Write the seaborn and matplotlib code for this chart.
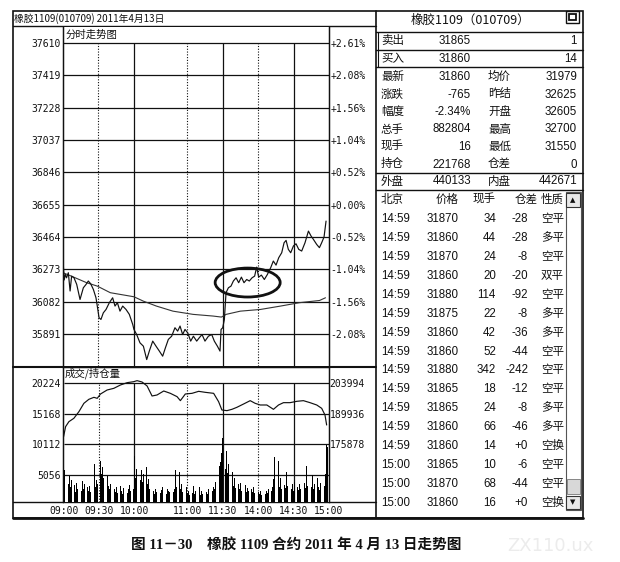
import numpy as np
import pandas as pd
import matplotlib
matplotlib.use("Agg")
import matplotlib.pyplot as plt
import seaborn as sns
from matplotlib.patches import Ellipse, Rectangle

sns.set_style("white")
plt.rcParams['font.family'] = ['DejaVu Sans', 'Noto Sans CJK SC']

# ---------------- data ----------------
price_levels = [37610, 37419, 37228, 37037, 36846, 36655, 36464, 36273, 36082, 35891]
pct_labels = ["+2.61%", "+2.08%", "+1.56%", "+1.04%", "+0.52%", "+0.00%",
              "-0.52%", "-1.04%", "-1.56%", "-2.08%"]
vol_levels = [20224, 15168, 10112, 5056]
oi_levels = [203994, 189936, 175878]
time_ticks = [0, 30, 60, 105, 135, 165, 195, 225]
time_labels = ["09:00", "09:30", "10:00", "11:00", "11:30", "14:00", "14:30", "15:00"]
dotted_times = [30, 105, 165]
solid_times = [60, 135, 195]

price_min = [0, 1, 2, 3, 4.5, 6, 7.3, 9.3, 11.6, 14.4, 17.2, 19.5, 21.4, 23.4, 25.7, 27.9, 29,
             30.5, 32.1, 34.1, 36.4, 39.2, 42, 44, 46, 48.2, 50.5, 53.3, 56.1, 59, 60, 62.3,
             65.1, 68, 70.8, 73, 75.9, 78.7, 81.5, 84.3, 86.6, 89.1, 91.9, 94.7, 97, 99,
             101.2, 103.2, 105.5, 108, 110.3, 113.1, 115.3, 117.6, 120.1, 123, 125.8, 128,
             130.6, 132.8, 133.7, 135.1, 136.5, 137.9, 139.9, 142.1, 144.1, 146.4, 148.6,
             150.9, 153.1, 155.4, 157.6, 159.9, 162.1, 163.8, 165.5, 167.8, 170.3, 172.9,
             175.7, 177.9, 180.2, 182.5, 185, 187, 188.7, 190.6, 192.6, 194.9, 197.1, 199.4,
             201.9, 204.7, 207.6, 209.8, 211.8, 214.6, 216.9, 218.8, 220.8, 222.5]
price_val = [36330, 36210, 36243, 36223, 36253, 36145, 36233, 36223, 36184, 36095, 36164, 36184,
             36204, 36188, 36154, 36105, 36056, 35987, 35977, 36016, 36036, 36076, 36105, 36056,
             36076, 36026, 36056, 36036, 36007, 35947, 35918, 35888, 35839, 35819, 35740, 35790,
             35849, 35819, 35790, 35760, 35809, 35859, 35878, 35928, 35908, 35938, 35888, 35918,
             35898, 35849, 35878, 35849, 35869, 35888, 35849, 35878, 35888, 35849, 35819, 35790,
             35918, 35928, 35977, 36135, 36164, 36174, 36204, 36223, 36194, 36227, 36194, 36213,
             36204, 36223, 36233, 36286, 36227, 36239, 36213, 36243, 36283, 36322, 36298, 36342,
             36371, 36430, 36444, 36391, 36371, 36411, 36424, 36391, 36381, 36430, 36499, 36470,
             36450, 36420, 36401, 36430, 36464, 36558]

avg_min = [0, 7, 20, 29, 40, 60, 68, 79, 93, 110, 127, 134, 138, 150, 167, 184, 200, 217, 222]
avg_val = [36253, 36233, 36194, 36174, 36135, 36111, 36085, 36056, 36026, 36007, 35997, 35991,
           36007, 36026, 36036, 36056, 36076, 36089, 36105]

oi_min = [0, 1.7, 4.5, 8.7, 13, 17.2, 21.4, 25.7, 28.5, 31.3, 36.9, 42.6, 48.2, 53.9, 59.5, 62.3,
          66.5, 70.8, 75, 79.2, 84.9, 90.5, 96.2, 99, 103.2, 108.9, 114.5, 120.1, 127.2, 131.4,
          134.2, 138.5, 142.7, 146.9, 152.6, 158.2, 162.4, 166.7, 172.3, 177.9, 182.2, 186.4,
          192, 197.7, 203.3, 208.9, 214.6, 218.8, 221.6, 223]
oi_val = [179267, 183875, 186179, 187715, 190787, 194627, 196470, 197392, 196931, 198928, 200771,
          201539, 203075, 204150, 204611, 205072, 204458, 202615, 198007, 198467, 200310, 199235,
          197699, 195856, 198928, 199235, 200157, 199696, 199235, 195395, 191555, 191248, 191862,
          192784, 194320, 195856, 194627, 193859, 193859, 191862, 193859, 194934, 194934, 195549,
          195856, 194934, 193859, 192323, 189251, 184643]

volume = [10300, 5800, 4500, 5200, 3600, 4900, 3000, 4200, 2500, 3400, 2200, 3800, 2700,
          7500, 3300, 2500, 4000, 2800, 3500, 2600, 3100, 2400, 3300, 2200, 2900, 3600,
          6800, 3000, 4200, 3500,
          10500, 7400, 5200, 6300, 4600, 5500, 3800, 4900, 3200, 2700, 3600,
          2300, 6700, 2800, 2300, 3000, 2100, 2600, 3300, 2400, 2000, 2900, 2300, 2600, 2100,
          2800, 3400, 2500, 3100, 2700,
          8200, 4500, 6000, 5200, 6600, 4200, 5800, 3900, 5300, 4800, 6400, 3600, 4400,
          2800, 2300, 3100, 2500, 2000, 2700, 2200, 2900, 3400, 2100, 2600, 3000, 2400, 2200,
          1900, 2800, 2500, 2300, 2600, 3000, 2200, 2700,
          5900, 3100, 2400, 5500, 2800, 3500, 2300, 4200, 2600, 3000, 2100,
          2400, 1800, 2700, 2100, 3200, 1900, 2500, 1600, 2200, 3000, 1800, 2400, 2000, 1700,
          2600, 2300, 1900, 2800, 2100, 3400, 2500, 3100, 2700, 3900, 3300,
          5200, 6500, 7200, 8700, 11200, 7800, 6100, 9000, 5400, 6800,
          4800, 3900, 5600, 3300, 4500, 2900, 4100, 3500, 2700, 3800, 2400, 3100, 2600, 3400,
          2200, 2900, 2500, 2000, 2700, 2300, 3000, 2100,
          8200, 2700, 2300, 2000, 2500, 1800, 2200, 2600, 1900, 2400, 2100,
          2800, 3600, 2500, 3100, 4400, 8000, 2600, 3300, 7300, 3000, 4600, 2700, 7500, 3400,
          2900, 5600, 3200, 2500, 4300, 2800, 3500, 2400, 3900, 2200, 3000, 2600,
          3500, 2800, 4100, 2600, 3700, 2900, 6600, 3300, 2500, 4200, 3000, 5100, 2700, 3600,
          2400, 4500, 3100, 2600, 3800, 2900, 4400, 3300, 5200,
          10000, 9600, 6000]
vol_min = list(range(len(volume)))

quote_left_labels = ["卖出", "买入", "最新", "涨跌", "幅度", "总手", "现手", "持仓", "外盘"]
quote_left_values = ["31865", "31860", "31860", "-765", "-2.34%", "882804", "16", "221768", "440133"]
quote_right_labels = ["", "", "均价", "昨结", "开盘", "最高", "最低", "仓差", "内盘"]
quote_right_values = ["1", "14", "31979", "32625", "32605", "32700", "31550", "0", "442671"]

tick_header = ["北京", "价格", "现手", "仓差", "性质"]
tick_time = ["14:59"] * 13 + ["15:00"] * 3
tick_price = [31870, 31860, 31870, 31860, 31880, 31875, 31860, 31860, 31880, 31865, 31865,
              31860, 31860, 31865, 31870, 31860]
tick_vol = [34, 44, 24, 20, 114, 22, 42, 52, 342, 18, 24, 66, 14, 10, 68, 16]
tick_oi = ["-28", "-28", "-8", "-20", "-92", "-8", "-36", "-44", "-242", "-12", "-8", "-46",
           "+0", "-6", "-44", "+0"]
tick_type = ["空平", "多平", "空平", "双平", "空平", "多平", "多平", "空平", "空平", "空平", "多平",
             "多平", "空换", "空平", "空平", "空换"]

left_title = "橡胶1109(010709) 2011年4月13日"
right_title = "橡胶1109（010709）"
caption = "图 11－30　橡胶 1109 合约 2011 年 4 月 13 日走势图"

# ---------------- figure ----------------
W, H = 620, 562
fig = plt.figure(figsize=(W / 100, H / 100), dpi=100)
fig.patch.set_facecolor("white")

def rect(l, t, r, b):
    return [l / W, 1 - b / H, (r - l) / W, (b - t) / H]

bg = fig.add_axes([0, 0, 1, 1], zorder=0)
bg.set_xlim(0, W)
bg.set_ylim(H, 0)
bg.axis("off")

K = "#111111"
SANS = ["Liberation Sans", "Noto Sans CJK SC"]
CJK = ["Noto Sans CJK SC", "DejaVu Sans"]

# frames
bg.add_patch(Rectangle((13, 11), 570, 507, fill=False, lw=1.2, ec=K))
bg.plot([13, 583], [518, 518], color=K, lw=2)
bg.plot([13, 376], [26, 26], color=K, lw=1)
bg.plot([376, 376], [11, 518], color=K, lw=1.2)
bg.plot([13, 376], [366.5, 366.5], color=K, lw=1.5)
bg.plot([13, 376], [502, 502], color=K, lw=1)
bg.text(14, 18.5, left_title, fontsize=7, family=CJK, va="center", ha="left", color=K)

# right panel lines
for yy in [32, 50, 67, 173, 190]:
    bg.plot([376, 583], [yy, yy], color=K, lw=1)
bg.plot([378, 378], [32, 67], color=K, lw=0.8)
bg.text(470, 20, right_title, fontsize=9, family=CJK, ha="center", va="center", color=K)
bg.add_patch(Rectangle((566, 11), 13, 12, fill=False, lw=1, ec=K))
bg.add_patch(Rectangle((569, 14), 7, 6, fill=False, lw=1.3, ec=K))

quote_y = [41, 59, 77, 94.5, 112, 129.5, 147, 164.5, 181.5]
for i, y in enumerate(quote_y):
    bg.text(381, y, quote_left_labels[i], fontsize=8.3, family=SANS, ha="left", va="center", color=K)
    bg.text(471, y, quote_left_values[i], fontsize=8.3, family=SANS, ha="right", va="center", color=K)
    if quote_right_labels[i]:
        bg.text(488, y, quote_right_labels[i], fontsize=8.3, family=SANS, ha="left", va="center", color=K)
    bg.text(577, y, quote_right_values[i], fontsize=8.3, family=SANS, ha="right", va="center", color=K)

hy = 200
bg.text(381, hy, tick_header[0], fontsize=8.3, family=SANS, ha="left", va="center", color=K)
bg.text(459, hy, tick_header[1], fontsize=8.3, family=SANS, ha="right", va="center", color=K)
bg.text(496, hy, tick_header[2], fontsize=8.3, family=SANS, ha="right", va="center", color=K)
bg.text(538, hy, tick_header[3], fontsize=8.3, family=SANS, ha="right", va="center", color=K)
bg.text(541, hy, tick_header[4], fontsize=8.3, family=SANS, ha="left", va="center", color=K)
for i in range(len(tick_time)):
    y = 219 + i * 18.93
    bg.text(381, y, tick_time[i], fontsize=8.3, family=SANS, ha="left", va="center", color=K)
    bg.text(459, y, str(tick_price[i]), fontsize=8.3, family=SANS, ha="right", va="center", color=K)
    bg.text(496, y, str(tick_vol[i]), fontsize=8.3, family=SANS, ha="right", va="center", color=K)
    bg.text(528, y, tick_oi[i], fontsize=8.3, family=SANS, ha="right", va="center", color=K)
    bg.text(541, y, tick_type[i], fontsize=8.3, family=SANS, ha="left", va="center", color=K)

# scrollbar
bg.add_patch(Rectangle((566, 192), 15, 318, fill=False, lw=0.8, ec="#555555"))
bg.add_patch(Rectangle((566, 193), 14, 14, fc="#e8e8e8", lw=0.8, ec="#333333"))
bg.add_patch(Rectangle((566, 496), 14, 13, fc="#e8e8e8", lw=0.8, ec="#333333"))
bg.add_patch(Rectangle((567, 479), 13, 15, fc="#d8d8d8", lw=0.6, ec="#777777"))
bg.text(573, 200, "▲", fontsize=5, ha="center", va="center", color=K)
bg.text(573, 502.5, "▼", fontsize=5, ha="center", va="center", color=K)

# caption and watermark
bg.text(296, 546, caption, fontsize=10.5, fontweight="bold",
        family=["Liberation Serif", "Noto Sans CJK SC"], ha="center", va="center", color=K)
bg.text(550, 546, "ZX110.ux", fontsize=13, ha="center", va="center", color="#ececec")

# ---------------- price panel ----------------
axp = fig.add_axes(rect(63, 27, 329, 366), zorder=2)
p_lo, p_hi = 35702, 37704.5
sns.lineplot(x=avg_min, y=avg_val, ax=axp, color="#333333", lw=0.8, sort=False,
             estimator=None, legend=False)
sns.lineplot(x=price_min, y=price_val, ax=axp, color=K, lw=0.85, sort=False,
             estimator=None, legend=False)
axp.hlines(price_levels, 0, 225, color=K, lw=0.9, zorder=0)
axp.vlines(solid_times, p_lo, price_levels[0], color=K, lw=0.9, zorder=0)
axp.vlines(dotted_times, p_lo, price_levels[0], color=K, lw=0.8, linestyles=(0, (1, 1.5)), zorder=0)
axp.add_patch(Ellipse((156.2, 36195), width=55, height=171, fill=False, lw=2.0, ec=K, zorder=3))
axp.set_xlim(0, 225)
axp.set_ylim(p_lo, p_hi)
axp.set_xticks([])
axp.set_yticks(price_levels)
axp.set_yticklabels([str(v) for v in price_levels])
axp.tick_params(axis="y", length=0, pad=1.5, labelsize=7, labelfontfamily="DejaVu Sans Mono",
                labelcolor=K)
axp.set_xlabel("")
axp.set_ylabel("")
for s in ["top", "bottom"]:
    axp.spines[s].set_visible(False)
for s in ["left", "right"]:
    axp.spines[s].set_color(K)
    axp.spines[s].set_linewidth(1)
axp.text(2, 37660, "分时走势图", fontsize=7.5, family=CJK, ha="left", va="center", color=K)

axpr = axp.twinx()
axpr.set_ylim(p_lo, p_hi)
axpr.set_yticks(price_levels)
axpr.set_yticklabels(pct_labels)
axpr.tick_params(axis="y", length=0, pad=0.8, labelsize=7, labelfontfamily="DejaVu Sans Mono",
                 labelcolor=K)
for s in ["top", "bottom"]:
    axpr.spines[s].set_visible(False)
for s in ["left", "right"]:
    axpr.spines[s].set_color(K)

# ---------------- volume panel ----------------
axv = fig.add_axes(rect(63, 367, 329, 502), zorder=2)
v_lo, v_hi = 605, 22862
sns.barplot(x=vol_min, y=volume, ax=axv, native_scale=True, color="black", width=0.6,
            errorbar=None, linewidth=0, saturation=1)
for p in axv.patches:
    p.set_antialiased(False)
axv.hlines(vol_levels, 0, 225, color=K, lw=0.9, zorder=0)
axv.vlines(solid_times, v_lo, vol_levels[0], color=K, lw=0.9, zorder=0)
axv.vlines(dotted_times, v_lo, vol_levels[0], color=K, lw=0.8, linestyles=(0, (1, 1.5)), zorder=0)
axv.set_xlim(-0.5, 225)
axv.set_ylim(v_lo, v_hi)
axv.set_yticks(vol_levels)
axv.set_yticklabels([str(v) for v in vol_levels])
axv.set_xticks(time_ticks)
axv.set_xticklabels(time_labels)
axv.tick_params(axis="both", length=0, labelsize=7, labelfontfamily="DejaVu Sans Mono",
                labelcolor=K)
axv.tick_params(axis="y", pad=1.5)
axv.tick_params(axis="x", pad=3)
axv.set_xlabel("")
axv.set_ylabel("")
for s in axv.spines:
    axv.spines[s].set_color(K)
    axv.spines[s].set_linewidth(1)
axv.spines["bottom"].set_visible(False)
axv.text(1, 21900, "成交/持仓量", fontsize=7.5, family=CJK, ha="left", va="center", color=K)

axo = axv.twinx()
sns.lineplot(x=oi_min, y=oi_val, ax=axo, color=K, lw=0.85, sort=False, estimator=None,
             legend=False)
axo.set_xlim(-0.5, 225)
axo.set_ylim(149147, 211369)
axo.set_yticks(oi_levels)
axo.set_yticklabels([str(v) for v in oi_levels])
axo.tick_params(axis="y", length=0, pad=0.3, labelsize=7, labelfontfamily="DejaVu Sans Mono",
                labelcolor=K)
axo.set_ylabel("")
axo.spines["bottom"].set_visible(False)
for s in axo.spines:
    axo.spines[s].set_color(K)

fig.savefig("out.png", dpi=100, facecolor="white")
